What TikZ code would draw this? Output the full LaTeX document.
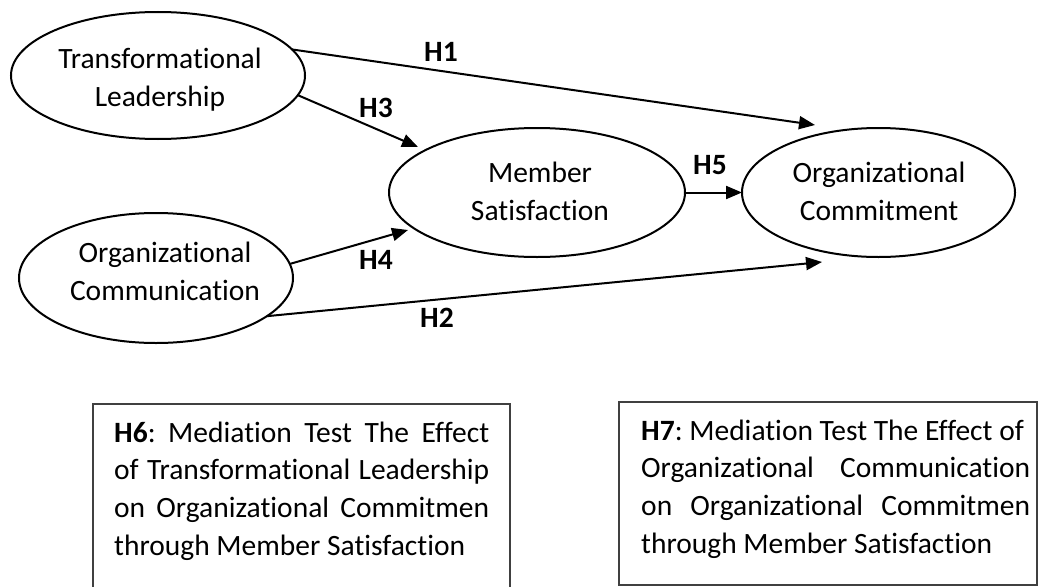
\documentclass[tikz,border=0pt]{standalone}
\usepackage{fontspec}
\setmainfont{Carlito}[Ligatures={NoCommon}]
\usetikzlibrary{shapes.geometric,arrows.meta}
\frenchspacing
\begin{document}
\begin{tikzpicture}[x=1pt,y=-1pt,
  var/.style={draw, ellipse, line width=2pt, inner sep=0pt, outer sep=0pt},
  lbl/.style={anchor=base, inner sep=0pt, font=\fontsize{29.5}{38}\selectfont},
  hyp/.style={inner sep=0pt, font=\fontsize{29.5}{34}\selectfont\bfseries},
  link/.style={line width=2pt, -{Triangle[length=16pt,width=13pt]}},
  note/.style={draw=black!75, line width=1.3pt, inner sep=0pt, outer sep=0pt, anchor=north west},
  notetext/.style={anchor=base west, inner sep=0pt, font=\fontsize{29.5}{37.7}\selectfont},
  ]
\useasboundingbox (0,0) rectangle (1038,586);

% constructs
\node[var, minimum width=294pt, minimum height=127pt] (tl) at (158,75.5) {};
\node[var, minimum width=274pt, minimum height=130pt] (oc) at (156,278) {};
\node[var, minimum width=296pt, minimum height=129pt] (ms) at (537,192.5) {};
\node[var, minimum width=273pt, minimum height=129pt] (com) at (878.5,192.5) {};

\node[lbl] (tlt) at (160,68) {\begin{tabular}[t]{@{}c@{}}Transformational\\Leadership\end{tabular}};
\node[lbl] (oct) at (165,262) {\begin{tabular}[t]{@{}c@{}}Organizational\\Communication\end{tabular}};
\node[lbl] (mst) at (540,182) {\begin{tabular}[t]{@{}c@{}}Member\\Satisfaction\end{tabular}};
\node[lbl] (comt) at (879,182) {\begin{tabular}[t]{@{}c@{}}Organizational\\Commitment\end{tabular}};

% arrow tips
\coordinate (e1) at (815,125);
\coordinate (e3) at (418,147);
\coordinate (e4) at (408,230);
\coordinate (e2) at (822,262);

\draw[link] (tl.11.6) -- (e1);
\draw[link] (tl.-8) -- (e3);
\draw[link] (oc.6.7) -- (e4);
\draw[link] (oc.-19.6) -- (e2);
\draw[link] (ms) -- (com);

% hypothesis labels
\node[hyp] (h1) at (441,52) {H1};
\node[hyp] (h3) at (376,108) {H3};
\node[hyp] (h4) at (376,260) {H4};
\node[hyp] (h2) at (437,318) {H2};
\node[hyp] (h5) at (710,165) {H5};

% mediation boxes
\node[note, minimum width=417pt, minimum height=200pt] (b6) at (93,404) {};
\node[note, minimum width=418pt, minimum height=183pt] (b7) at (619,402) {};

\node[notetext] (t6) at (114,442) {\begin{tabular}[t]{@{}l@{}}
\makebox[375pt][s]{\textbf{H6}: Mediation Test The Effect}\\
\makebox[375pt][s]{of Transformational Leadership}\\
\makebox[375pt][s]{on Organizational Commitmen}\\
through Member Satisfaction
\end{tabular}};

\node[notetext] (t7) at (641,440) {\begin{tabular}[t]{@{}l@{}}
\textbf{H7}: Mediation Test The Effect of\\
\makebox[389pt][s]{Organizational Communication}\\
\makebox[389pt][s]{on Organizational Commitmen}\\
through Member Satisfaction
\end{tabular}};
\end{tikzpicture}
\end{document}
